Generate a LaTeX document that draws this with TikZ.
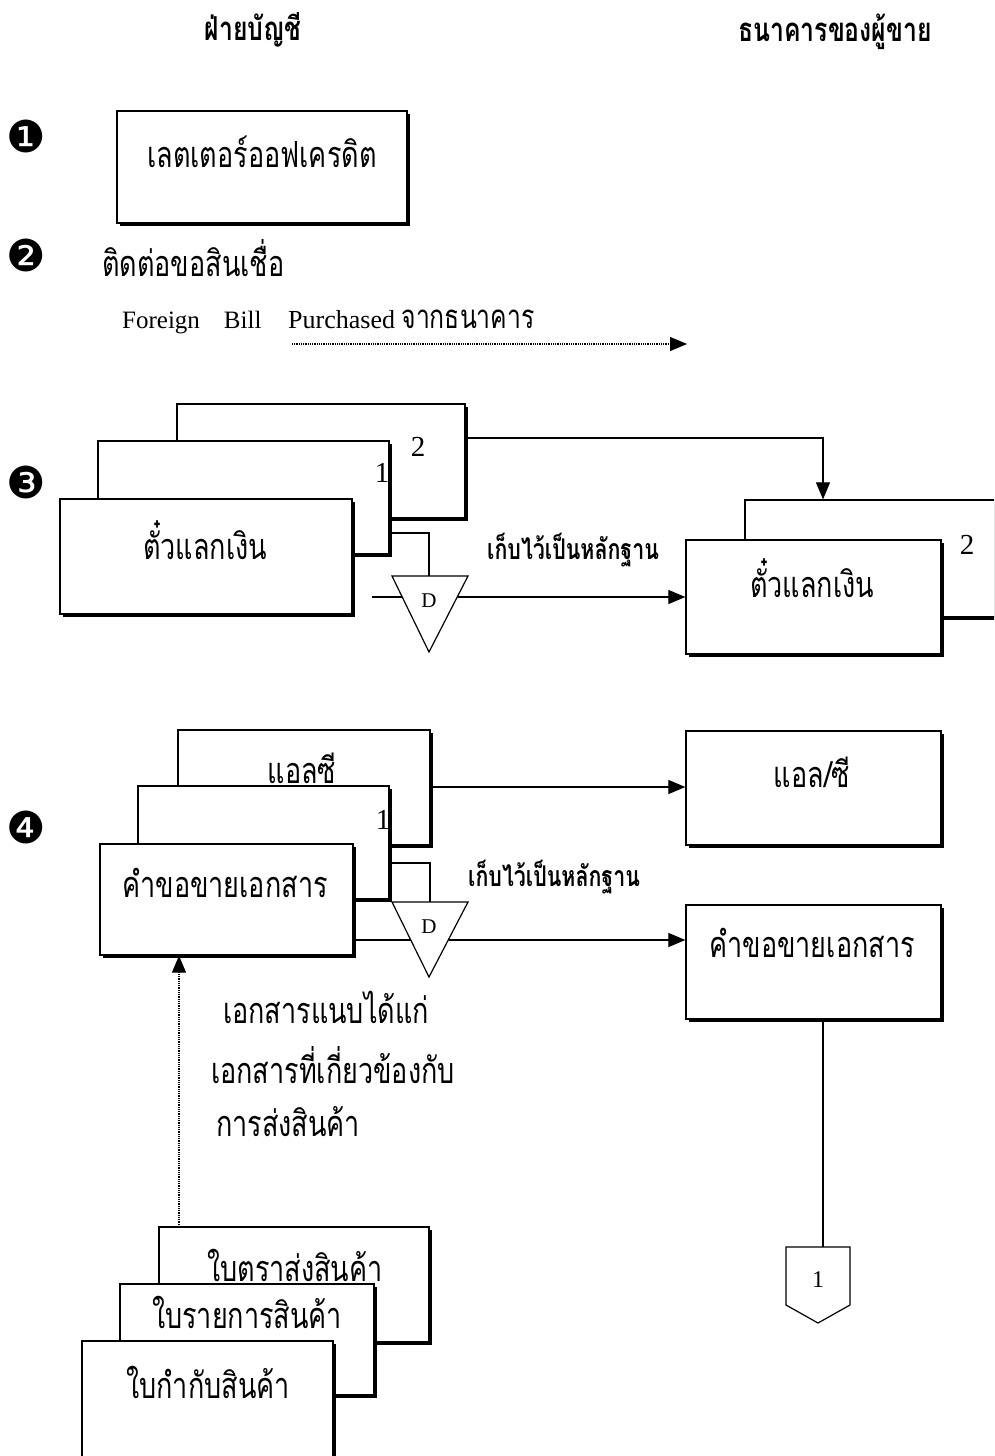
\documentclass[tikz,border=0pt]{standalone}
\usepackage{fontspec}
\setmainfont{Liberation Serif}
\newfontfamily\thai[Script=Thai, FakeStretch=0.75]{Loma}
\newfontfamily\dv{DejaVu Sans}
\usetikzlibrary{arrows.meta,shadows,fit}
\tikzset{
  doc/.style={draw, fill=white, line width=1.3pt, inner sep=0pt,
    general shadow={fill=black, shadow xshift=3pt, shadow yshift=-3pt}},
  th/.style={font=\thai\fontsize{36}{40}\selectfont, inner sep=0pt},
  thb/.style={font=\thai\bfseries\fontsize{33}{38}\selectfont, inner sep=0pt},
  thsmall/.style={font=\thai\bfseries\fontsize{28.5}{32}\selectfont, inner sep=0pt},
  lat/.style={font=\fontsize{26}{30}\selectfont, inner sep=0pt},
  num/.style={font=\fontsize{29}{32}\selectfont, inner sep=0pt},
  dlet/.style={font=\fontsize{21}{24}\selectfont, inner sep=0pt},
  circ/.style={font=\dv\fontsize{44}{48}\selectfont, inner sep=0pt},
  ln/.style={line width=1.2pt},
  arr/.style={line width=1.2pt, -{Triangle[length=17pt,width=14pt]}},
  dotarr/.style={line width=1.2pt, dash pattern=on 1pt off 0.8pt, -{Triangle[length=17pt,width=14pt]}},
}
\begin{document}
\begin{tikzpicture}[x=1pt,y=1pt]
\useasboundingbox (0,0) rectangle (994,-1456);
\clip (0,0) rectangle (994,-1456);
\fill[white] (0,0) rectangle (994,-1456);

% headings
\node[thb] (h1) at (253,-30) {ฝ่ายบัญชี};
\node[thb] (h2) at (835,-32) {ธนาคารของผู้ขาย};

% step markers
\node[circ] (s1) at (26,-136) {❶};
\node[circ] (s2) at (26,-255) {❷};
\node[circ] (s3) at (26,-482) {❸};
\node[circ] (s4) at (26,-827) {❹};

% step 1
\node[doc, fit={(117,-111)(407,-223)}] (b1) {};
\node[th] (t1) at (262,-152) {เลตเตอร์ออฟเครดิต};

% step 2
\node[th, anchor=west] (t2) at (102,-258) {ติดต่อขอสินเชื่อ};
\node[lat, anchor=base west, font=\fontsize{25}{30}\selectfont] (t2a) at (122,-328) {Foreign\hspace{24pt}Bill};
\node[lat, anchor=base west] (t2b) at (288,-328) {Purchased {\thai\fontsize{33}{36}\selectfont จากธนาคาร}};
\coordinate (p2a) at (292,-344);
\coordinate (p2b) at (687,-344);
\draw[dotarr] (p2a) -- (p2b);

% step 3 - accounting side
\node[doc, fit={(177,-404)(465,-518)}] (b3c) {};
\node[num] (n3c) at (418,-447) {2};
\node[doc, fit={(98,-441)(389,-554)}] (b3b) {};
\node[num] (n3b) at (382,-473) {1};
\node[doc, fit={(60,-499)(352,-614)}] (b3a) {};
\node[th] (t3a) at (205,-540) {ตั๋วแลกเงิน};

% step 3 - bank side
\node[doc, fit={(745,-500)(1060,-617)}] (k3b) {};
\node[num] (n3k) at (967,-545) {2};
\node[doc, fit={(686,-540)(941,-654)}] (k3a) {};
\node[th] (t3k) at (812,-578) {ตั๋วแลกเงิน};

% step 3 - file symbol
\coordinate (d3l) at (392,-576);
\coordinate (d3r) at (468,-576);
\coordinate (d3v) at (429,-652);
\draw[ln] (d3l) -- (d3r) -- (d3v) -- cycle;
\node[dlet] (d3) at (429,-601) {D};
\coordinate (j3a) at (429,-533);
\draw[ln] (b3b.east |- j3a) -- (j3a) -- (429,-576);
\coordinate (e3l) at (372,-597);
\coordinate (e3m) at (402,-597);
\coordinate (e3r) at (458,-597);
\draw[ln] (e3l) -- (e3m);
\draw[arr] (e3r) -- (e3r -| k3a.west);
\node[thsmall, anchor=west] (k3t) at (487,-550) {เก็บไว้เป็นหลักฐาน};
\coordinate (j3b) at (823,-438);
\draw[arr] (b3c.east |- j3b) -- (j3b) -- (j3b |- k3b.north);

% step 4 - accounting side
\node[doc, fit={(178,-730)(430,-845)}] (b4c) {};
\node[th] (t4c) at (302,-768) {แอลซี};
\node[doc, fit={(138,-786)(389,-899)}] (b4b) {};
\node[num] (n4b) at (383,-820) {1};
\node[doc, fit={(100,-844)(353,-955)}] (b4a) {};
\node[th] (t4a) at (225,-883) {คำขอขายเอกสาร};

% step 4 - bank side
\node[doc, fit={(686,-731)(941,-845)}] (k4a) {};
\node[th] (t4k1) at (812,-772) {แอล/ซี};
\node[doc, fit={(686,-905)(941,-1019)}] (k4b) {};
\node[th] (t4k2) at (812,-943) {คำขอขายเอกสาร};

\coordinate (j4c) at (600,-787);
\draw[arr] (b4c.east |- j4c) -- (j4c -| k4a.west);

% step 4 - file symbol
\coordinate (d4l) at (392,-902);
\coordinate (d4r) at (468,-902);
\coordinate (d4v) at (429,-977);
\draw[ln] (d4l) -- (d4r) -- (d4v) -- cycle;
\node[dlet] (d4) at (429,-927) {D};
\coordinate (j4a) at (430,-863);
\draw[ln] (b4b.east |- j4a) -- (j4a) -- (430,-902);
\coordinate (e4m) at (411,-940);
\coordinate (e4r) at (449,-940);
\draw[ln] (b4a.east |- e4m) -- (e4m);
\draw[arr] (e4r) -- (e4r -| k4b.west);
\node[thsmall, anchor=west] (k4t) at (468,-877) {เก็บไว้เป็นหลักฐาน};

% off-page connector
\node[num, font=\fontsize{24}{26}\selectfont] (c1) at (818,-1280) {1};
\coordinate (pt) at (823,-1247);
\draw[ln] (786,-1247) -- (850,-1247) -- (850,-1305) -- (818,-1323) -- (786,-1305) -- cycle;
\draw[ln] (k4b.south -| pt) -- (pt);

% attached documents text
\node[th] (a1) at (326,-1007) {เอกสารแนบได้แก่};
\node[th] (a2) at (333,-1065) {เอกสารที่เกี่ยวข้องกับ};
\node[th] (a3) at (288,-1122) {การส่งสินค้า};

% bottom documents
\node[doc, fit={(159,-1227)(429,-1342)}] (d5c) {};
\node[th] (t5c) at (295,-1265) {ใบตราส่งสินค้า};
\node[doc, fit={(120,-1284)(374,-1395)}] (d5b) {};
\node[th] (t5b) at (247,-1312) {ใบรายการสินค้า};
\node[doc, fit={(82,-1341)(333,-1470)}] (d5a) {};
\node[th] (t5a) at (208,-1382) {ใบกำกับสินค้า};

\coordinate (q5) at (179,-1227);
\draw[dotarr] (q5) -- (q5 |- b4a.south);
\end{tikzpicture}
\end{document}
